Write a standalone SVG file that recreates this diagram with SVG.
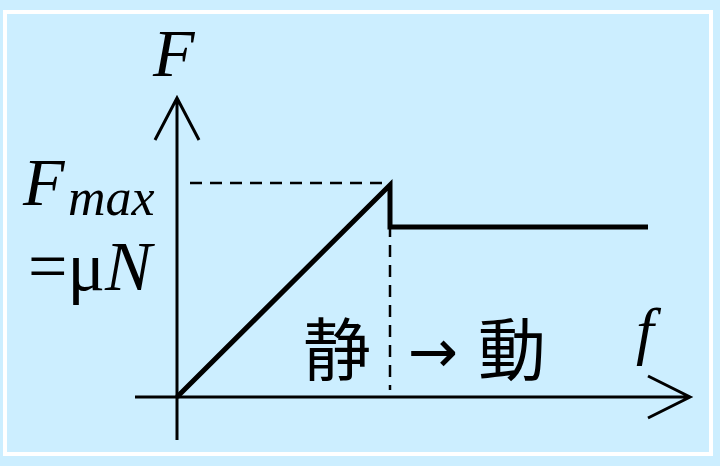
<svg xmlns="http://www.w3.org/2000/svg" width="720" height="466" viewBox="0 0 720 466">
<style>
.s{stroke:#000;fill:none}
.t{font-family:"Liberation Serif",serif;fill:#000}
.c{font-family:"Noto Sans CJK TC","Noto Sans CJK JP",sans-serif;fill:#000}
</style>
<rect width="720" height="466" fill="#cceeff"/>
<rect x="5" y="12" width="706" height="442" fill="#cceeff" stroke="#fff" stroke-width="4"/>
<g id="axes">
<path class="s" stroke-width="3" d="M177 440V98M155 140L177 98L199 140"/>
<path class="s" stroke-width="3" d="M135 397H690M648 376L690 397L648 418"/>
</g>
<g id="connectors">
<path class="s" stroke-width="2.5" stroke-dasharray="12,8" d="M190 183H390M390 185V390"/>
<path class="s" stroke-width="5" d="M177 397L390 185V227H648"/>
</g>
<g id="labels">
<text class="t" x="153" y="76" font-size="68" font-style="italic">F</text>
<text class="t" x="23" y="205" font-size="68" font-style="italic">F</text>
<text class="t" x="68" y="215" font-size="52" font-style="italic">max</text>
<text class="t" x="28" y="290" font-size="70">=μ<tspan font-style="italic">N</tspan></text>
<text class="c" x="303" y="375" font-size="68">静</text>
<text x="408" y="372" font-size="60" font-family="DejaVu Sans,sans-serif">→</text>
<text class="c" x="478" y="375" font-size="68">動</text>
<text class="t" x="636" y="352" font-size="64" font-style="italic">f</text>
</g>
</svg>
